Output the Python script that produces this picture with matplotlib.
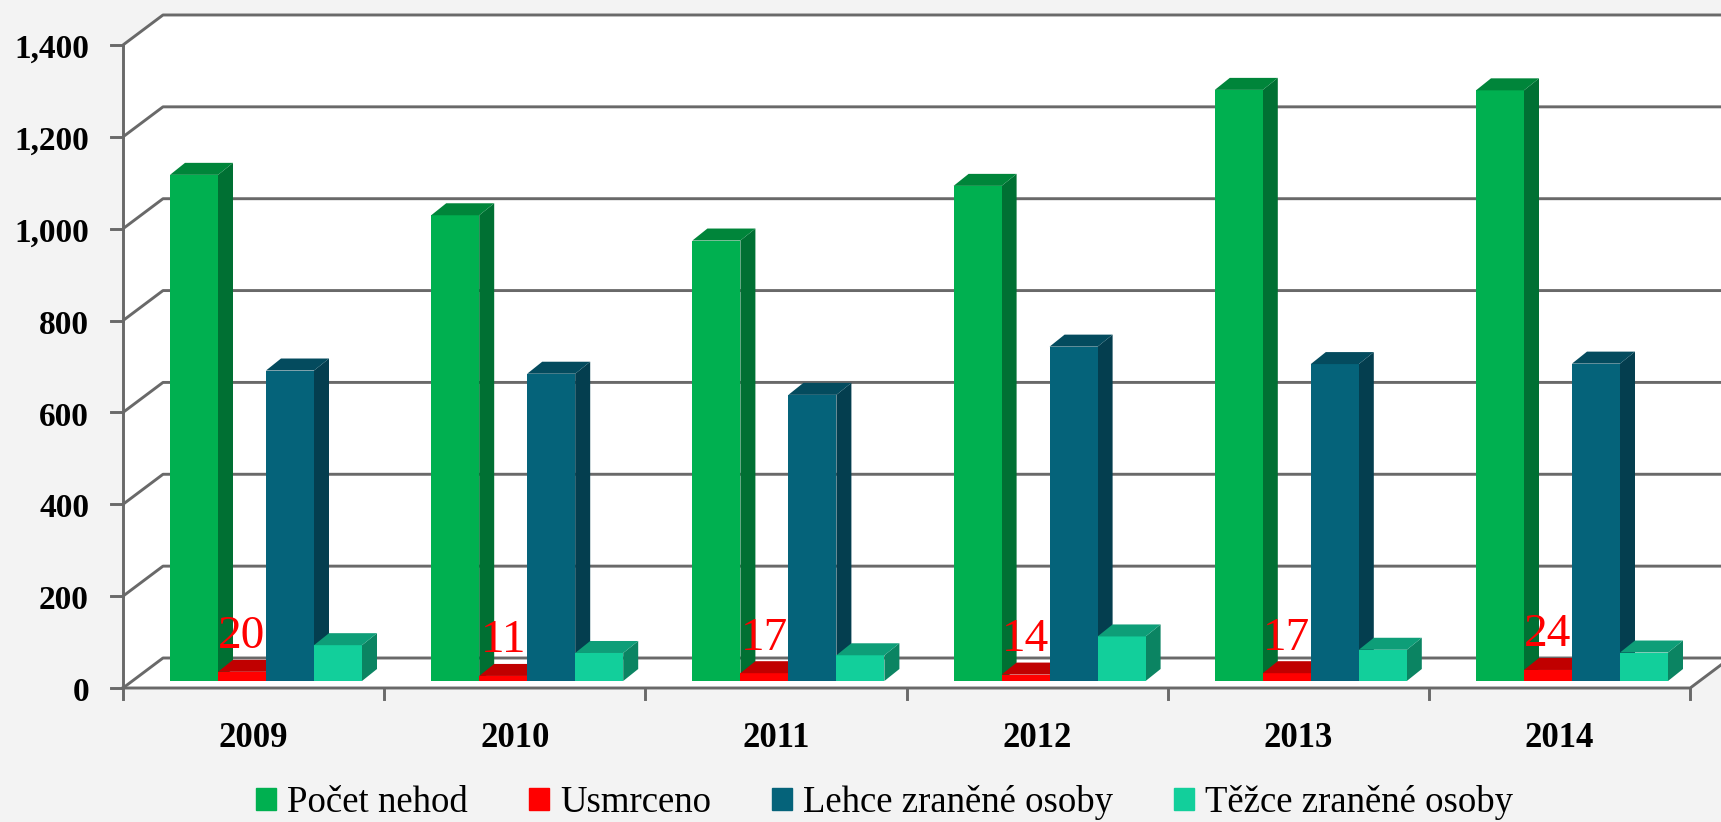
import numpy as np
import matplotlib.pyplot as plt
from matplotlib.patches import Patch

# data
roky = ['2009', '2010', '2011', '2012', '2013', '2014']
pocet_nehod = [1102, 1014, 959, 1078, 1287, 1286]
usmrceno = [20, 11, 17, 14, 17, 24]
lehce_zranene = [676, 669, 623, 728, 690, 691]
tezce_zranene = [78, 61, 56, 97, 68, 62]
nazvy = ['Počet nehod', 'Usmrceno', 'Lehce zraněné osoby', 'Těžce zraněné osoby']
yticks = [0, 200, 400, 600, 800, 1000, 1200, 1400]
ytick_labels = ['0', '200', '400', '600', '800', '1,000', '1,200', '1,400']

# barvy : predni stena, horni stena, bocni stena
barvy = [
    ('#00b050', '#00853a', '#007033'),
    ('#ff0000', '#c00000', '#c00000'),
    ('#05637a', '#044b5e', '#043e4f'),
    ('#12cf9b', '#0e9e78', '#0b8462'),
]
serie = [pocet_nehod, usmrceno, lehce_zranene, tezce_zranene]

W, H = 1721, 822
fig = plt.figure(figsize=(W / 100, H / 100), dpi=100)
fig.patch.set_facecolor('#f3f3f3')
ax = fig.add_axes([0, 0, 1, 1])
ax.axis('off')

# meritko : px na kategorii a px na jednotku
kat = 261.2
jed = 0.4593
x0, y0 = 123, 134
ax.set_xlim(-x0 / kat, (W - x0) / kat)
ax.set_ylim(-y0 / jed, (H - y0) / jed)

n = len(roky)
ymax = yticks[-1]
# hloubka steny
dx = 40 / kat
dy = 30 / jed
xr = n + 1.0

# bila krabice (podlaha + steny)
ax.fill([0, 0, dx, xr, xr, n + dx, n], [0, ymax, ymax + dy, ymax + dy, dy, dy, 0],
        color='white', zorder=0)

seda = '#696969'
lw = 2.1
for t in yticks:
    ax.plot([0, dx, xr], [t, t + dy, t + dy], color=seda, lw=lw, zorder=1,
            solid_capstyle='butt')
    ax.plot([-12 / kat, 0], [t, t], color=seda, lw=lw, zorder=1)
# osy
ax.plot([0, 0], [0, ymax], color=seda, lw=lw, zorder=1)
ax.plot([0, n, n + dx], [0, 0, dy], color=seda, lw=lw, zorder=1)
for k in range(n + 1):
    ax.plot([k, k], [0, -11 / jed], color=seda, lw=lw, zorder=1)

# sloupce
bw = 48 / kat
ofs = 47 / kat
base = 7 / jed
ddx = 15 / kat
ddy = 12 / jed
for i in range(n):
    for j, hodnoty in enumerate(serie):
        v = hodnoty[i]
        xl = i + ofs + j * bw
        front, top, side = barvy[j]
        z = 2 + j * 0.1
        ax.fill([xl + bw, xl + bw + ddx, xl + bw + ddx, xl + bw],
                [base, base + ddy, base + v + ddy, base + v], color=side, lw=0, zorder=z)
        ax.bar(xl, v, width=bw, bottom=base, align='edge', color=front, lw=0, zorder=z + 0.01)
        ax.fill([xl, xl + ddx, xl + bw + ddx, xl + bw],
                [base + v, base + v + ddy, base + v + ddy, base + v], color=top, lw=0,
                zorder=z + 0.02)
        if j == 1:
            ax.text(xl + bw / 2, base + v + 76, str(v), color='#ff0000', ha='center',
                    va='center', fontsize=34, family='Liberation Serif', zorder=5)

# popisky os
for t, lab in zip(yticks, ytick_labels):
    ax.text(-34 / kat, t - 10, lab, ha='right', va='center', fontsize=24,
            fontweight='bold', family='Liberation Serif')
for i, r in enumerate(roky):
    ax.text(i + 0.5, -50 / jed, r, ha='center', va='center', fontsize=25,
            fontweight='bold', family='Liberation Serif')

handles = [Patch(color=barvy[j][0], label=nazvy[j]) for j in range(4)]
ax.legend(handles=handles, loc='center', bbox_to_anchor=(0.514, 0.024), ncol=4,
          frameon=False, prop={'family': 'Liberation Serif', 'size': 26.5},
          handlelength=0.55, handleheight=0.55, handletextpad=0.3, columnspacing=1.65,
          borderpad=0.1)

fig.savefig('out.png', dpi=100, facecolor=fig.get_facecolor())
